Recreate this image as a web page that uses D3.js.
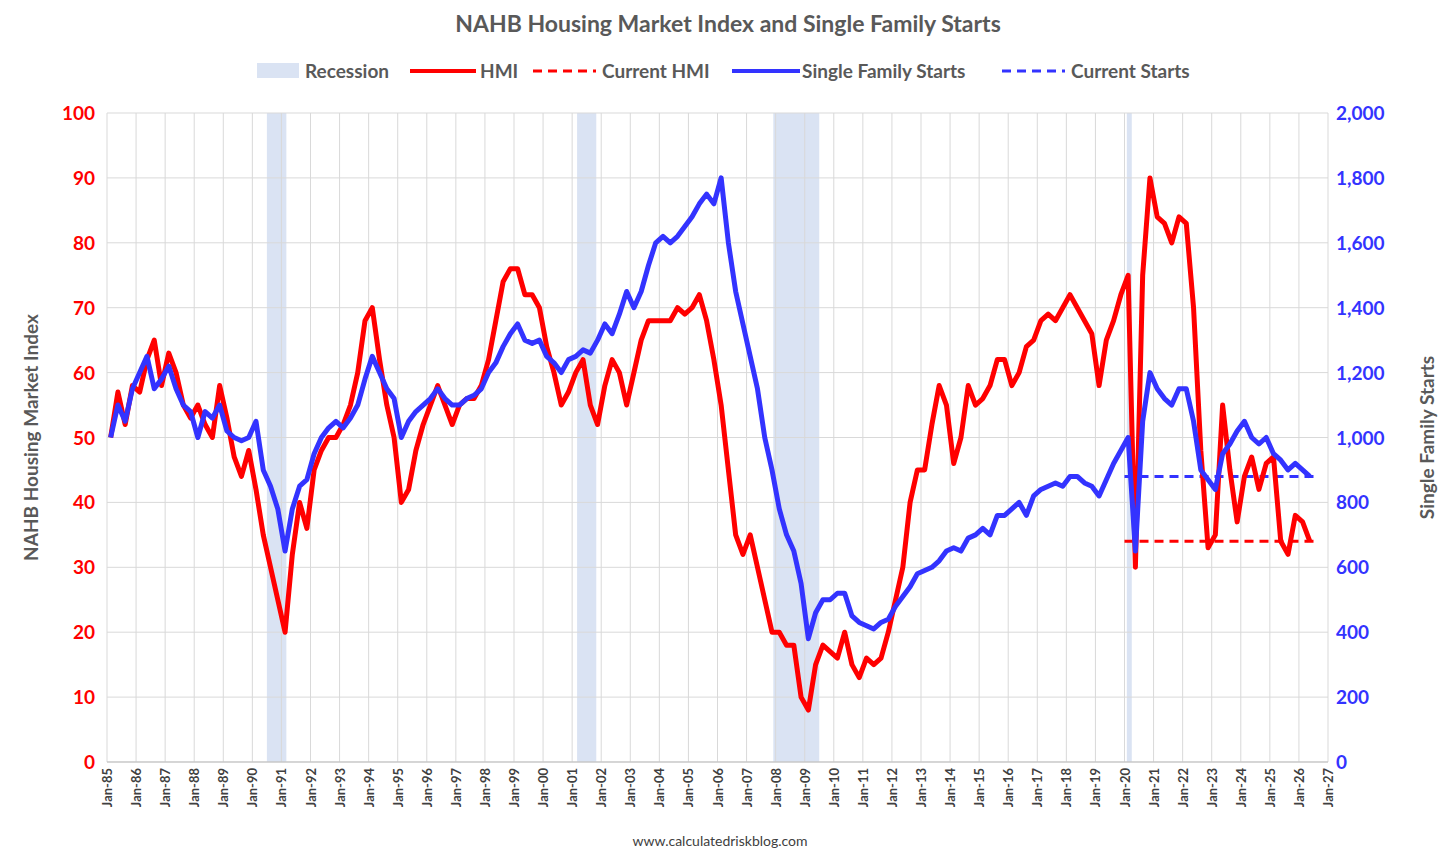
<!DOCTYPE html>
<html><head><meta charset="utf-8">
<script src="https://cdn.jsdelivr.net/npm/d3@7"></script>
<style>
body{margin:0;background:#fff;font-family:Lato,"Open Sans",sans-serif;}
text{font-family:Lato,"Open Sans",sans-serif;}
</style></head><body>
<svg id="c" width="1456" height="860"></svg>
<script>
// quarterly values, starting Q1 1985
const hmi = [
50,57,52,58, 57,62,65,58, 63,60,55,53, 55,52,50,58, 53,47,44,48, 42,35,30,25,
20,32,40,36, 45,48,50,50, 52,55,60,68, 70,62,55,50, 40,42,48,52, 55,58,55,52,
55,56,56,58, 62,68,74,76, 76,72,72,70, 64,60,55,57, 60,62,55,52, 58,62,60,55,
60,65,68,68, 68,68,70,69, 70,72,68,62, 55,45,35,32, 35,30,25,20, 20,18,18,10,
8,15,18,17, 16,20,15,13, 16,15,16,20, 25,30,40,45, 45,52,58,55, 46,50,58,55,
56,58,62,62, 58,60,64,65, 68,69,68,70, 72,70,68,66, 58,65,68,72, 75,30,75,90,
84,83,80,84, 83,70,48,33, 35,55,45,37, 44,47,42,46, 47,34,32,38, 37,34];
const starts = [
1000,1100,1050,1150, 1200,1250,1150,1180, 1220,1150,1100,1080, 1000,1080,1060,1100,
1020,1000,990,1000, 1050,900,850,780, 650,780,850,870, 950,1000,1030,1050,
1030,1060,1100,1180, 1250,1200,1150,1120, 1000,1050,1080,1100, 1120,1150,1120,1100,
1100,1120,1130,1150, 1200,1230,1280,1320, 1350,1300,1290,1300, 1250,1230,1200,1240,
1250,1270,1260,1300, 1350,1320,1380,1450, 1400,1450,1530,1600, 1620,1600,1620,1650,
1680,1720,1750,1720, 1800,1600,1450,1350, 1250,1150,1000,900, 780,700,650,550,
380,460,500,500, 520,520,450,430, 420,410,430,440, 480,510,540,580,
590,600,620,650, 660,650,690,700, 720,700,760,760, 780,800,760,820,
840,850,860,850, 880,880,860,850, 820,870,920,960, 1000,650,1050,1200,
1150,1120,1100,1150, 1150,1050,900,870, 840,950,980,1020, 1050,1000,980,1000,
950,930,900,920, 900,880];
const recessions = [[1990.5,1991.17],[2001.17,2001.83],[2007.92,2009.5],[2020.08,2020.25]];
const currentHmi = 34, currentStarts = 880;
const years = d3.range(1985, 2028);

const svg = d3.select("#c");
const m = {l:107, r:1328, t:113, b:762};
const x = d3.scaleLinear().domain([1985,2027]).range([m.l,m.r]);
const yL = d3.scaleLinear().domain([0,100]).range([m.b,m.t]);
const yR = d3.scaleLinear().domain([0,2000]).range([m.b,m.t]);
const tq = i => 1985 + i*0.25 + 0.125;

// recessions
svg.selectAll(".rec").data(recessions).enter().append("rect")
  .attr("x",d=>x(d[0])).attr("width",d=>x(d[1])-x(d[0]))
  .attr("y",m.t).attr("height",m.b-m.t).attr("fill","#dae3f3");

// grid
svg.selectAll(".hg").data(d3.range(0,101,10)).enter().append("line")
  .attr("x1",m.l).attr("x2",m.r).attr("y1",d=>yL(d)).attr("y2",d=>yL(d)).attr("stroke","#d9d9d9");
svg.selectAll(".vg").data(years).enter().append("line")
  .attr("y1",m.t).attr("y2",m.b).attr("x1",d=>x(d)).attr("x2",d=>x(d)).attr("stroke","#d9d9d9");

// current lines
svg.append("line").attr("x1",x(2020)).attr("x2",x(2026.6)).attr("y1",yL(currentHmi)).attr("y2",yL(currentHmi))
  .attr("stroke","#ff0000").attr("stroke-width",3).attr("stroke-dasharray","9,6");
svg.append("line").attr("x1",x(2020)).attr("x2",x(2026.6)).attr("y1",yR(currentStarts)).attr("y2",yR(currentStarts))
  .attr("stroke","#3333ff").attr("stroke-width",3).attr("stroke-dasharray","9,6");

// series
svg.append("path").datum(hmi).attr("fill","none").attr("stroke","#ff0000").attr("stroke-width",5)
  .attr("stroke-linejoin","round")
  .attr("d",d3.line().x((d,i)=>x(tq(i))).y(d=>yL(d)));
svg.append("path").datum(starts).attr("fill","none").attr("stroke","#3333ff").attr("stroke-width",5)
  .attr("stroke-linejoin","round")
  .attr("d",d3.line().x((d,i)=>x(tq(i))).y(d=>yR(d)));

// axes
svg.append("line").attr("x1",m.l).attr("x2",m.r).attr("y1",m.b).attr("y2",m.b).attr("stroke","#bfbfbf");
svg.selectAll(".lt").data(d3.range(0,101,10)).enter().append("text")
  .attr("x",m.l-12).attr("y",d=>yL(d)+7).attr("text-anchor","end")
  .attr("fill","#ff0000").attr("font-weight","bold").attr("font-size",19).text(d=>d);
svg.selectAll(".rt").data(d3.range(0,2001,200)).enter().append("text")
  .attr("x",m.r+8).attr("y",d=>yR(d)+7).attr("text-anchor","start")
  .attr("fill","#3333ff").attr("font-weight","bold").attr("font-size",19).text(d=>d3.format(",")(d));
svg.selectAll(".xt").data(years).enter().append("text")
  .attr("transform",d=>`translate(${x(d)+5},${m.b+6}) rotate(-90)`)
  .attr("text-anchor","end").attr("fill","#404040").attr("font-weight","bold").attr("font-size",13)
  .text(d=>"Jan-"+String(d%100).padStart(2,"0"));

svg.append("text").attr("transform",`translate(38,${(m.t+m.b)/2}) rotate(-90)`).attr("text-anchor","middle")
  .attr("fill","#595959").attr("font-weight","bold").attr("font-size",19).text("NAHB Housing Market Index");
svg.append("text").attr("transform",`translate(1434,${(m.t+m.b)/2}) rotate(-90)`).attr("text-anchor","middle")
  .attr("fill","#595959").attr("font-weight","bold").attr("font-size",19).text("Single Family Starts");

svg.append("text").attr("x",728).attr("y",32).attr("text-anchor","middle").attr("fill","#595959")
  .attr("font-weight","bold").attr("font-size",23).text("NAHB Housing Market Index and Single Family Starts");
svg.append("text").attr("x",720).attr("y",846).attr("text-anchor","middle").attr("fill","#404040")
  .attr("font-size",14).text("www.calculatedriskblog.com");

// legend
const lg = svg.append("g");
lg.append("rect").attr("x",257).attr("y",63).attr("width",42).attr("height",15).attr("fill","#dae3f3");
lg.append("text").attr("x",305).attr("y",78).text("Recession");
lg.append("line").attr("x1",410).attr("x2",476).attr("y1",71).attr("y2",71).attr("stroke","#ff0000").attr("stroke-width",4);
lg.append("text").attr("x",480).attr("y",78).text("HMI");
lg.append("line").attr("x1",533).attr("x2",596).attr("y1",71).attr("y2",71).attr("stroke","#ff0000").attr("stroke-width",3).attr("stroke-dasharray","9,6");
lg.append("text").attr("x",602).attr("y",78).text("Current HMI");
lg.append("line").attr("x1",732).attr("x2",800).attr("y1",71).attr("y2",71).attr("stroke","#3333ff").attr("stroke-width",4);
lg.append("text").attr("x",802).attr("y",78).text("Single Family Starts");
lg.append("line").attr("x1",1002).attr("x2",1065).attr("y1",71).attr("y2",71).attr("stroke","#3333ff").attr("stroke-width",3).attr("stroke-dasharray","9,6");
lg.append("text").attr("x",1071).attr("y",78).text("Current Starts");
lg.selectAll("text").attr("fill","#595959").attr("font-weight","bold").attr("font-size",19);
</script></body></html>
